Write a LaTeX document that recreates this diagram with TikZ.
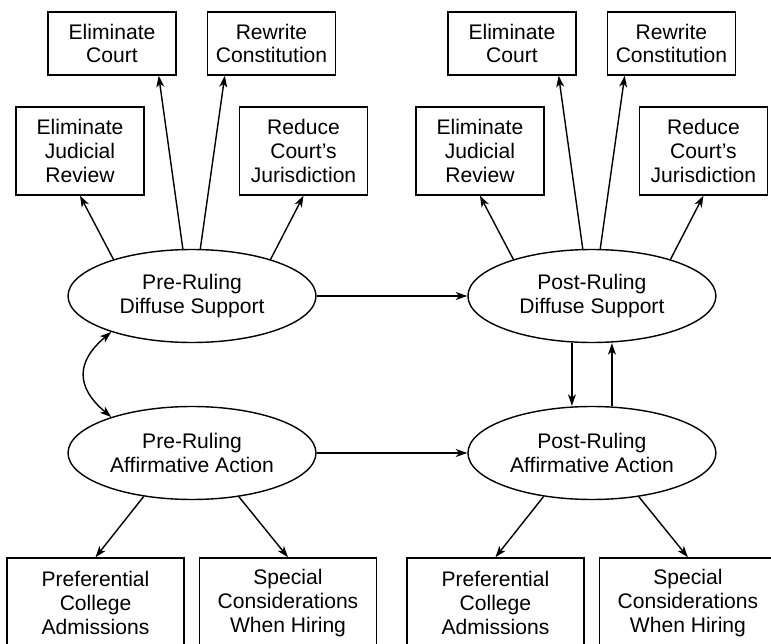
\documentclass[tikz,border=0pt]{standalone}
\usepackage{fontspec}
\setmainfont{Liberation Sans}
\usetikzlibrary{positioning,arrows.meta,shapes.geometric}

\begin{document}
\begin{tikzpicture}
[x=0.02cm, y=0.02cm, node distance=8cm, font=\fontsize{12}{13.5}\selectfont, line width=0.8pt, >={Stealth[length=6.5pt,width=4.5pt,inset=1.8pt]}]
\tikzstyle{latent}=[ellipse, draw, inner sep=0mm, minimum width=4.96cm, minimum height=1.86cm, align=center]
\tikzstyle{smallbox}=[rectangle, draw, inner sep=0mm, minimum width=2.56cm, minimum height=1.26cm, align=center]
\tikzstyle{tallbox}=[smallbox, minimum height=1.76cm]
\tikzstyle{widebox}=[rectangle, draw, inner sep=0mm, minimum width=3.54cm, minimum height=1.8cm, align=center]

\useasboundingbox (0,0) rectangle (771,643);
\clip (0,0) rectangle (771,643);

\node[latent]	(PreDS)		at (192,347)	{Pre-Ruling\\Diffuse Support};
\node[latent]	(PreAA)		at (192,190)	{Pre-Ruling\\Affirmative Action};
\node[latent]	(PostDS)	[right of=PreDS]	{Post-Ruling\\Diffuse Support};
\node[latent]	(PostAA)	[right of=PreAA]	{Post-Ruling\\Affirmative Action};

\node[smallbox]	(EC1)	at (112,599.5)		{Eliminate\\Court};
\node[smallbox]	(RC1)	at (271.5,599.5)	{Rewrite\\Constitution};
\node[tallbox]	(EJR1)	at (80,492)		{Eliminate\\Judicial\\Review};
\node[tallbox]	(RCJ1)	at (303.5,492)		{Reduce\\Court’s\\Jurisdiction};
\node[smallbox]	(EC2)	[right of=EC1]		{Eliminate\\Court};
\node[smallbox]	(RC2)	[right of=RC1]		{Rewrite\\Constitution};
\node[tallbox]	(EJR2)	[right of=EJR1]		{Eliminate\\Judicial\\Review};
\node[tallbox]	(RCJ2)	[right of=RCJ1]		{Reduce\\Court’s\\Jurisdiction};

\node[widebox]	(PCA1)	at (95.5,40)	{Preferential\\College\\Admissions};
\node[widebox]	(SCH1)	at (288,40)	{Special\\Considerations\\When Hiring};
\node[widebox]	(PCA2)	[right of=PCA1]	{Preferential\\College\\Admissions};
\node[widebox]	(SCH2)	[right of=SCH1]	{Special\\Considerations\\When Hiring};

\draw[->]	(PreDS.101)	-- ([xshift=-0.36cm]EC1.south east);
\draw[->]	(PreDS.80)	-- ([xshift=0.36cm]RC1.south west);
\draw[->]	(PreDS.155)	-- (EJR1.south);
\draw[->]	(PreDS.25)	-- (RCJ1.south);
\draw[->]	(PostDS.101)	-- ([xshift=-0.36cm]EC2.south east);
\draw[->]	(PostDS.80)	-- ([xshift=0.36cm]RC2.south west);
\draw[->]	(PostDS.155)	-- (EJR2.south);
\draw[->]	(PostDS.25)	-- (RCJ2.south);

\draw[->]	(PreDS)	-- (PostDS);
\draw[->]	(PreAA)	-- (PostAA);
\draw[<->]	(PreDS.204) to[out=220, in=140, looseness=1.4] (PreAA.156);
\draw[->]	([xshift=-0.4cm]PostDS.south) -- ([xshift=-0.4cm]PostAA.north);
\draw[->]	([xshift=0.4cm]PostAA.north) -- ([xshift=0.4cm]PostDS.south);

\draw[->]	(PreAA.222)	-- (PCA1.north);
\draw[->]	(PreAA.-43)	-- (SCH1.north);
\draw[->]	(PostAA.222)	-- (PCA2.north);
\draw[->]	(PostAA.-43)	-- (SCH2.north);

\end{tikzpicture}
\end{document}
